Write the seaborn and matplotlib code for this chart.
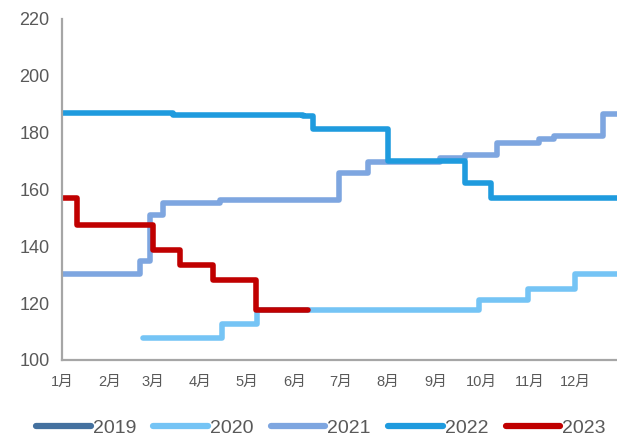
import numpy as np
import pandas as pd
import matplotlib
matplotlib.use("Agg")
import matplotlib.pyplot as plt
from matplotlib.lines import Line2D
import seaborn as sns

# step series: day-of-year where each level starts, and the level value
years = ["2019", "2020", "2021", "2022", "2023"]
colors = ["#44719F", "#75C4F5", "#7EA6E0", "#1F9BDE", "#C00000"]

days_2020 = [53, 104, 127, 271, 303, 334, 362]
vals_2020 = [107.7, 112.7, 117.6, 121.1, 125.0, 130.1, 130.1]

days_2021 = [0, 51, 57, 66, 103, 180, 199, 246, 262, 283, 310, 320, 352, 362]
vals_2021 = [130.3, 134.8, 151.0, 155.1, 156.3, 165.7, 169.8, 170.9, 172.1, 176.2, 177.6, 178.8, 186.6, 186.6]

days_2022 = [0, 72, 157, 163, 212, 262, 279, 362]
vals_2022 = [187.0, 186.3, 185.8, 181.3, 170.0, 162.2, 156.9, 156.9]

days_2023 = [0, 10, 59, 77, 98, 126, 160]
vals_2023 = [157.0, 147.5, 138.7, 133.4, 128.1, 117.6, 117.6]

month_starts = [0, 31, 59, 90, 120, 151, 181, 212, 243, 273, 304, 334]
month_labels = ["1月", "2月", "3月", "4月", "5月", "6月", "7月", "8月", "9月", "10月", "11月", "12月"]

series = {"2020": (days_2020, vals_2020), "2021": (days_2021, vals_2021),
          "2022": (days_2022, vals_2022), "2023": (days_2023, vals_2023)}
frames = [pd.DataFrame({"day": d, "value": v, "year": y}) for y, (d, v) in series.items()]
df = pd.concat(frames, ignore_index=True)

sns.set_style("white")
plt.rcParams["font.family"] = ["Liberation Sans", "Noto Sans CJK SC", "DejaVu Sans"]

fig = plt.figure(figsize=(6.17, 4.41), dpi=100)
ax = fig.add_axes([0.1005, 0.1837, 0.8995, 0.7733])

palette = dict(zip(years, colors))
for y in ["2020", "2021", "2022", "2023"]:
    sns.lineplot(data=df[df["year"] == y], x="day", y="value", color=palette[y],
                 drawstyle="steps-post", linewidth=4.0, ax=ax, legend=False,
                 solid_joinstyle="round", solid_capstyle="round")

ax.set_xlim(0, 361)
ax.set_ylim(100, 220)
ax.set_yticks(np.arange(100, 221, 20))
ax.set_xticks(month_starts)
ax.set_xticklabels(month_labels)
ax.set_xlabel("")
ax.set_ylabel("")

for s in ["top", "right"]:
    ax.spines[s].set_visible(False)
for s in ["left", "bottom"]:
    ax.spines[s].set_color("#A6A6A6")
    ax.spines[s].set_linewidth(1.6)

ax.tick_params(axis="y", colors="#A6A6A6", length=5, width=1.6, labelsize=13, labelcolor="#595959", pad=4)
ax.tick_params(axis="x", length=0, labelsize=10.5, labelcolor="#595959", pad=11)

handles = [Line2D([0], [0], color=c, linewidth=4.5, solid_capstyle="round") for c in colors]
fig.legend(handles, years, loc="lower center", bbox_to_anchor=(0.52, -0.03), ncol=5,
           frameon=False, fontsize=14, handlelength=2.8, handletextpad=0.1,
           columnspacing=0.9, labelcolor="#595959")

fig.savefig("out.png", dpi=100)
